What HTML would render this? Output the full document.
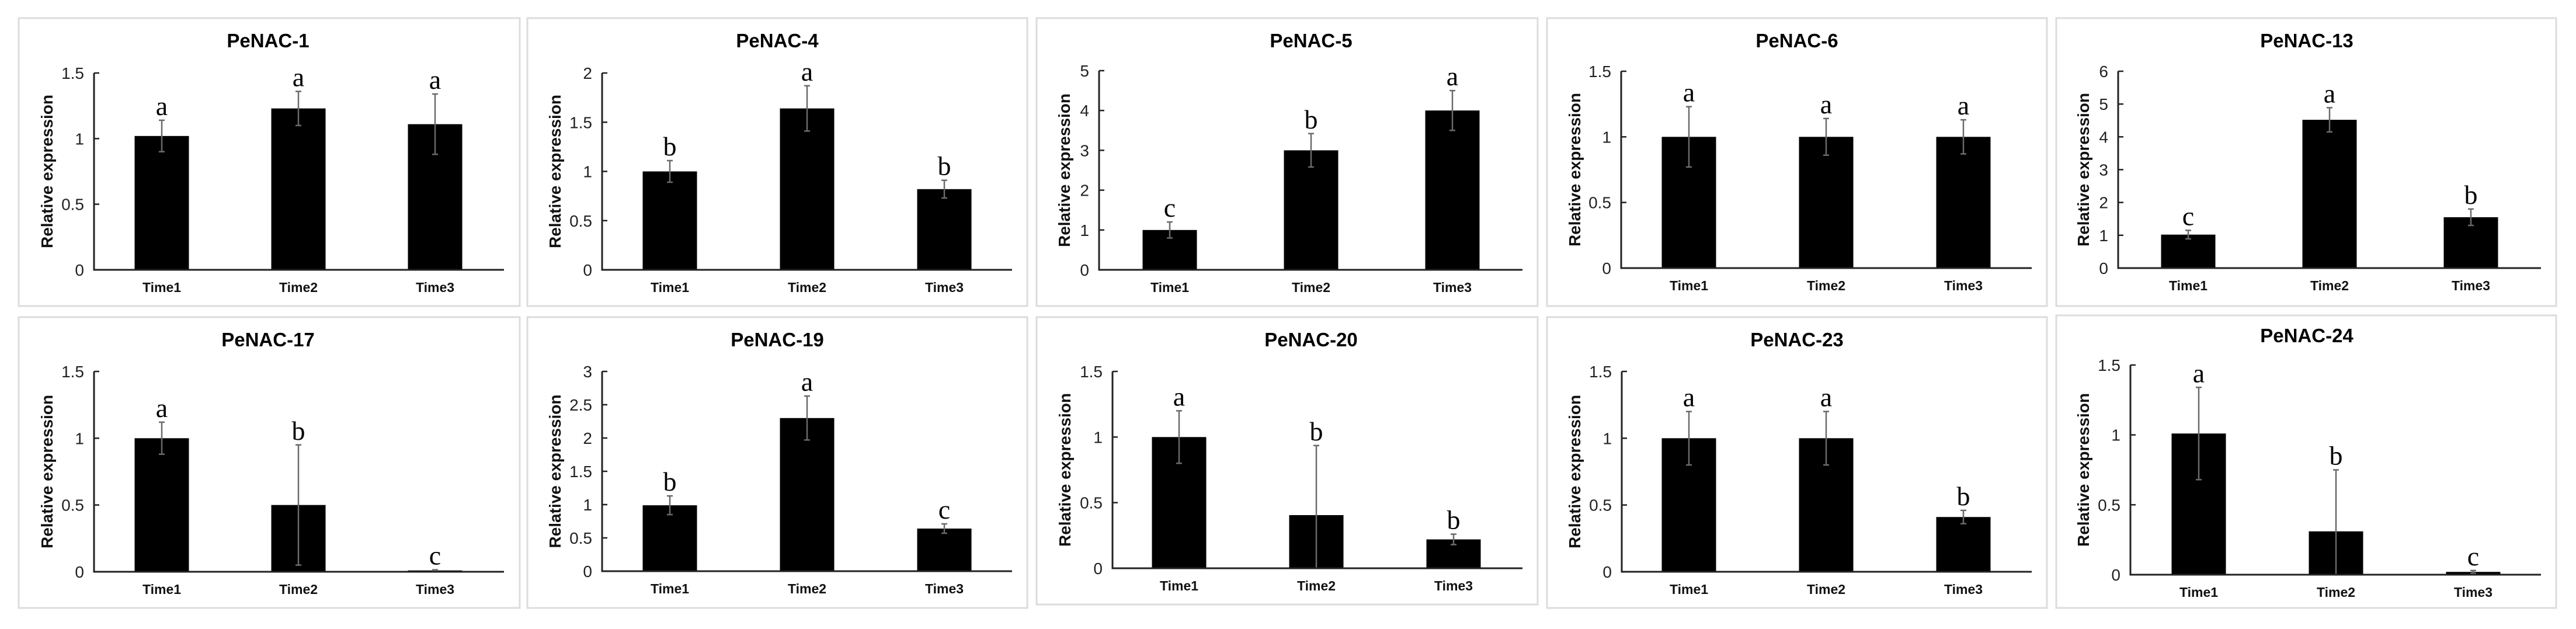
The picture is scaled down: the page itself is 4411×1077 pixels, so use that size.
<!DOCTYPE html>
<html><head><meta charset="utf-8">
<style>
html,body{margin:0;padding:0;background:#fff;}
svg{display:block;}
.title{font-family:"Liberation Sans",Arial,sans-serif;font-weight:bold;font-size:33px;fill:#000;}
.tick{font-family:"Liberation Sans",Arial,sans-serif;font-size:28px;fill:#222;}
.ytitle{font-family:"Liberation Sans",Arial,sans-serif;font-weight:bold;font-size:28px;fill:#111;}
.xlab{font-family:"Liberation Sans",Arial,sans-serif;font-weight:bold;font-size:23px;fill:#111;}
.let{font-family:"Liberation Serif","Times New Roman",serif;font-size:46px;fill:#000;}
</style></head>
<body>
<svg id="fig" width="4411" height="1077" viewBox="0 0 4411 1077" xmlns="http://www.w3.org/2000/svg"></svg>
<script>
// ---- data ----
const categories = ["Time1","Time2","Time3"];
const genes = ["PeNAC-1","PeNAC-4","PeNAC-5","PeNAC-6","PeNAC-13","PeNAC-17","PeNAC-19","PeNAC-20","PeNAC-23","PeNAC-24"];
const means1 = [1.02,1.23,1.11];
const means4 = [1.00,1.64,0.82];
const means5 = [1.00,3.00,4.00];
const means6 = [1.00,1.00,1.00];
const means13 = [1.02,4.52,1.55];
const means17 = [1.00,0.50,0.01];
const means19 = [0.99,2.30,0.64];
const means20 = [1.00,0.405,0.22];
const means23 = [1.00,1.00,0.41];
const means24 = [1.01,0.31,0.02];
const errs1 = [0.12,0.13,0.23];
const errs4 = [0.11,0.23,0.09];
const errs5 = [0.20,0.42,0.50];
const errs6 = [0.23,0.14,0.13];
const errs13 = [0.13,0.37,0.25];
const errs17 = [0.12,0.45,0.005];
const errs19 = [0.14,0.33,0.07];
const errs20 = [0.20,0.53,0.04];
const errs23 = [0.20,0.20,0.05];
const errs24 = [0.33,0.44,0.01];
const letters1 = ["a","a","a"];
const letters4 = ["b","a","b"];
const letters5 = ["c","b","a"];
const letters6 = ["a","a","a"];
const letters13 = ["c","a","b"];
const letters17 = ["a","b","c"];
const letters19 = ["b","a","c"];
const letters20 = ["a","b","b"];
const letters23 = ["a","a","b"];
const letters24 = ["a","b","c"];
const ticks15 = ["0","0.5","1","1.5"];
const ticks2 = ["0","0.5","1","1.5","2"];
const ticks5 = ["0","1","2","3","4","5"];
const ticks6 = ["0","1","2","3","4","5","6"];
const ticks3 = ["0","0.5","1","1.5","2","2.5","3"];
const allMeans = [means1,means4,means5,means6,means13,means17,means19,means20,means23,means24];
const allErrs = [errs1,errs4,errs5,errs6,errs13,errs17,errs19,errs20,errs23,errs24];
const allLetters = [letters1,letters4,letters5,letters6,letters13,letters17,letters19,letters20,letters23,letters24];
const allTicks = [ticks15,ticks2,ticks5,ticks15,ticks6,ticks15,ticks3,ticks15,ticks15,ticks15];

// ---- layout (pixels) ----
const layout = [
 {bx:32,by:31,bw:858,bh:493, ax:161,right:863,yt:125,y0:462,c1:277,step:234,tx:459,ty:69,ytx:80},
 {bx:903,by:31,bw:856,bh:493, ax:1031,right:1733,yt:125,y0:462,c1:1147,step:235,tx:1331,ty:69,ytx:950},
 {bx:1775,by:31,bw:858,bh:493, ax:1882,right:2607,yt:121,y0:462,c1:2003,step:242,tx:2245,ty:69,ytx:1822},
 {bx:2649,by:31,bw:856,bh:493, ax:2776,right:3479,yt:122,y0:459,c1:2892,step:235,tx:3077,ty:69,ytx:2696},
 {bx:3521,by:31,bw:856,bh:493, ax:3627,right:4351,yt:122,y0:459,c1:3747,step:242,tx:3950,ty:69,ytx:3567},
 {bx:32,by:543,bw:858,bh:498, ax:161,right:863,yt:636,y0:979,c1:277,step:234,tx:459,ty:581,ytx:80},
 {bx:903,by:543,bw:856,bh:498, ax:1031,right:1733,yt:636,y0:978,c1:1147,step:235,tx:1331,ty:581,ytx:950},
 {bx:1775,by:543,bw:858,bh:492, ax:1905,right:2607,yt:636,y0:973,c1:2019,step:235,tx:2245,ty:581,ytx:1823},
 {bx:2649,by:543,bw:856,bh:498, ax:2777,right:3479,yt:636,y0:979,c1:2892,step:235,tx:3077,ty:581,ytx:2696},
 {bx:3521,by:540,bw:856,bh:501, ax:3648,right:4351,yt:625,y0:984,c1:3765,step:235,tx:3950,ty:574,ytx:3567}
];

const NS="http://www.w3.org/2000/svg";
const svg=document.getElementById('fig');
function mk(tag,attrs,parent){const e=document.createElementNS(NS,tag);for(const k in attrs)e.setAttribute(k,attrs[k]);(parent||svg).appendChild(e);return e;}

genes.forEach((g,i)=>{
  const L=layout[i], means=allMeans[i], errs=allErrs[i], lets=allLetters[i], ticks=allTicks[i];
  const ymax=parseFloat(ticks[ticks.length-1]);
  const yScale=v=>L.y0-(v/ymax)*(L.y0-L.yt);
  const xScale=k=>L.c1+k*L.step;
  const grp=mk('g',{});
  
  
  const border=mk('rect',{x:L.bx,y:L.by,width:L.bw,height:L.bh,fill:'#fff',stroke:'#dcdcdc','stroke-width':3},grp);
  
  
  const t=mk('text',{x:L.tx,y:L.ty+12,'text-anchor':'middle',class:'title'},grp);t.textContent=g;
  
  
  const yt=mk('text',{x:L.ytx,y:(L.yt+L.y0)/2+0,'text-anchor':'middle',class:'ytitle',transform:'rotate(-90 '+L.ytx+' '+((L.yt+L.y0)/2)+')',dy:'10'},grp);
  yt.textContent='Relative expression';
  
  
  // ticks
  ticks.forEach(tl=>{
    const v=parseFloat(tl), y=yScale(v);
    const ln=mk('line',{x1:L.ax,x2:L.ax+9,y1:y,y2:y,stroke:'#222','stroke-width':2.5},grp);
    
    
    const tx=mk('text',{x:L.ax-17,y:y+10,'text-anchor':'end',class:'tick'},grp);tx.textContent=tl;
    
    
  });
  // bars
  means.forEach((m,k)=>{
    const cx=xScale(k), w=93, yb=yScale(m);
    const b=mk('rect',{x:cx-w/2,y:yb,width:w,height:L.y0-yb,fill:'#000'},grp);
    
    
    const eTop=yScale(m+errs[k]), eBot=Math.min(L.y0,yScale(m-errs[k]));
    const eb=mk('path',{d:'M'+cx+' '+eTop+'V'+eBot+'M'+(cx-5)+' '+eTop+'H'+(cx+5)+'M'+(cx-5)+' '+eBot+'H'+(cx+5),stroke:'#6a6a6a','stroke-width':2.5,fill:'none'},grp);
    
    
    const lt=mk('text',{x:cx,y:eTop-9,'text-anchor':'middle',class:'let'},grp);lt.textContent=lets[k];
    
    
    const xl=mk('text',{x:cx,y:L.y0+38,'text-anchor':'middle',class:'xlab'},grp);xl.textContent=categories[k];
    
    
  });
  const ax=mk('path',{d:'M'+L.ax+' '+L.yt+'V'+L.y0+'H'+L.right,stroke:'#222','stroke-width':3,fill:'none'},grp);
  
  
});
</script>
</body></html>
